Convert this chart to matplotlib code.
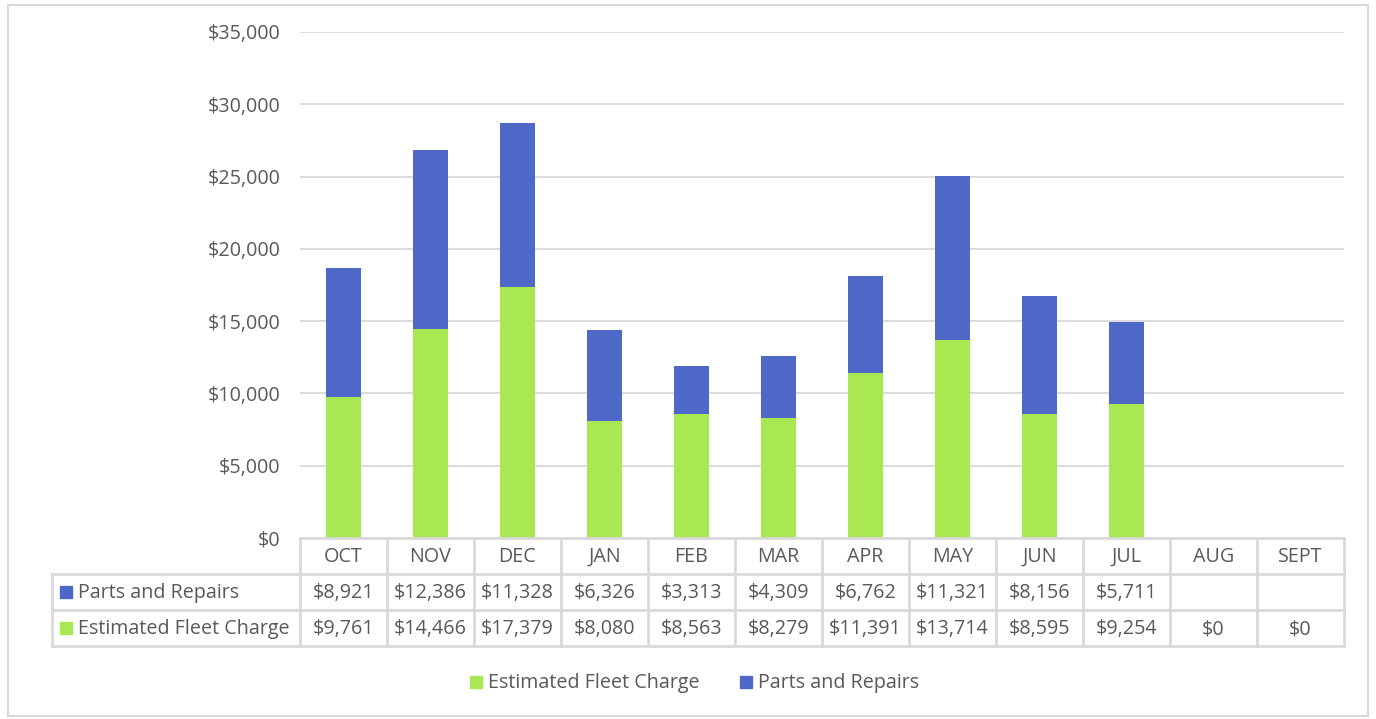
import matplotlib
matplotlib.use("Agg")
import matplotlib.pyplot as plt
from matplotlib.patches import Rectangle

months = ["OCT", "NOV", "DEC", "JAN", "FEB", "MAR", "APR", "MAY", "JUN", "JUL", "AUG", "SEPT"]
fleet = [9761, 14466, 17379, 8080, 8563, 8279, 11391, 13714, 8595, 9254, 0, 0]
parts = [8921, 12386, 11328, 6326, 3313, 4309, 6762, 11321, 8156, 5711, None, None]
yticks = [0, 5000, 10000, 15000, 20000, 25000, 30000, 35000]

GREEN = "#A9E853"
BLUE = "#4E68C8"
TXT = "#595959"
GRID = "#D9D9D9"
FONT = ["Open Sans", "DejaVu Sans"]
plt.rcParams["font.family"] = FONT

W, H = 1376, 719
fig = plt.figure(figsize=(W / 100, H / 100), dpi=100)

fs = 14.2

# pixel geometry
L, R, T, B = 300, 1344, 32, 538
ax = fig.add_axes([L / W, 1 - B / H, (R - L) / W, (B - T) / H])
n = len(months)
x = list(range(n))
parts_vals = [p if p is not None else 0 for p in parts]
ax.bar(x, fleet, width=0.4, color=GREEN, zorder=3, label="Estimated Fleet Charge")
ax.bar(x, parts_vals, bottom=fleet, width=0.4, color=BLUE, zorder=3, label="Parts and Repairs")
ax.set_xlim(-0.5, n - 0.5)
ax.set_ylim(0, 35000)
ax.set_yticks(yticks)
ax.set_yticklabels([f"${v:,.0f}" for v in yticks], fontsize=fs, color=TXT)
ax.tick_params(axis="y", length=0, pad=14)
ax.set_xticks([])
ax.grid(axis="y", color=GRID, linewidth=1.3, zorder=0)
for s in ax.spines.values():
    s.set_visible(False)

# data table in pixel space
tax = fig.add_axes([0, 0, 1, 1])
tax.set_xlim(0, W)
tax.set_ylim(H, 0)
tax.axis("off")
colw = (R - L) / n
rows_y = [538, 574, 610, 646]
lc = dict(color=GRID, linewidth=2)
tax.plot([L, R], [rows_y[0], rows_y[0]], **lc)
for yy in rows_y[1:]:
    tax.plot([52, R], [yy, yy], **lc)
for i in range(n + 1):
    xx = L + i * colw
    tax.plot([xx, xx], [rows_y[0], rows_y[3]], **lc)
tax.plot([52, 52], [rows_y[1], rows_y[3]], **lc)

for i, m in enumerate(months):
    cx = L + (i + 0.5) * colw
    tax.text(cx, (rows_y[0] + rows_y[1]) / 2 + 1, m, ha="center", va="center", fontsize=fs, color=TXT)
    if parts[i] is not None:
        tax.text(cx, (rows_y[1] + rows_y[2]) / 2 + 1, f"${parts[i]:,}", ha="center", va="center", fontsize=fs, color=TXT)
    tax.text(cx, (rows_y[2] + rows_y[3]) / 2 + 1, f"${fleet[i]:,}", ha="center", va="center", fontsize=fs, color=TXT)

for (yy, lab, col) in [((rows_y[1] + rows_y[2]) / 2, "Parts and Repairs", BLUE),
                       ((rows_y[2] + rows_y[3]) / 2, "Estimated Fleet Charge", GREEN)]:
    tax.add_patch(Rectangle((60, yy - 6), 12, 12, color=col))
    tax.text(78, yy + 1, lab, ha="left", va="center", fontsize=fs, color=TXT)

# legend (drawn as patches + text at the reference positions)
ly = 682
for (sx, lab, col) in [(470, "Estimated Fleet Charge", GREEN), (740, "Parts and Repairs", BLUE)]:
    tax.add_patch(Rectangle((sx, ly - 6), 12, 12, color=col))
    tax.text(sx + 18, ly + 1, lab, ha="left", va="center", fontsize=fs, color=TXT)

# outer border
tax.add_patch(Rectangle((8, 5), 1360, 711, fill=False, edgecolor=GRID, linewidth=1.5))

fig.savefig("out.png", dpi=100)
